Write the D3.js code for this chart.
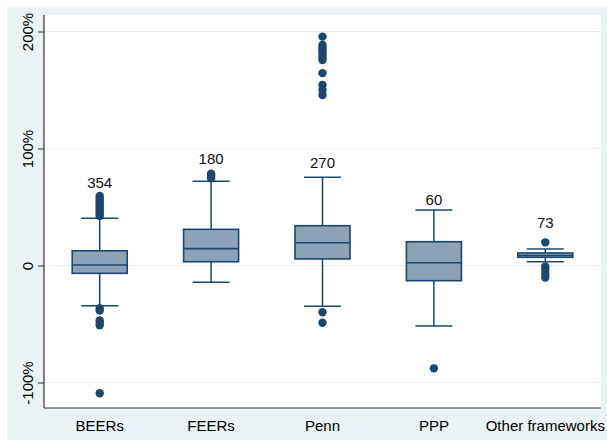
<!DOCTYPE html>
<html><head><meta charset="utf-8">
<script src="https://cdn.jsdelivr.net/npm/d3@7"></script>
<style>html,body{margin:0;padding:0;background:#fff;}svg{display:block;font-family:"Liberation Sans",Arial,sans-serif;}</style>
</head><body>
<svg id="chart" width="607" height="440"></svg>
<script>
const categories = ["BEERs","FEERs","Penn","PPP","Other frameworks"];
const counts = [354,180,270,60,73];
const q1 = [-6.7, 3.2, 5.6, -13.0, 7.0];
const medians = [0.4, 14.4, 19.5, 2.4, 8.6];
const q3 = [12.6, 30.9, 34.0, 20.3, 10.7];
const whiskerLow = [-34.4, -14.4, -34.9, -51.7, 3.2];
const whiskerHigh = [40.3, 72.0, 75.4, 47.4, 14.1];
const countLabelAt = [70.8, 91.1, 88.1, 56.2, 36.6];
const outliersBEERs = [59.4,57.7,56,54.3,52.6,50.9,49.1,47.4,45.7,44,42.3,-36.5,-38.5,-47,-49,-51,-109.2];
const outliersFEERs = [74.5,76,77.5,78.5];
const outliersPenn = [195.6,188.5,186,184,182,180,177.5,175.6,164.4,154.3,150,145.7,-39.9,-49];
const outliersPPP = [-87.9];
const outliersOther = [19.8,-0.9,-3.8,-7.3,-10.3];
const yTicks = [-100,0,100,200];
const yTickLabels = ["-100%","0","100%","200%"];

const outliers = [outliersBEERs,outliersFEERs,outliersPenn,outliersPPP,outliersOther];
const navy = "#1a476f", fill = "#8ea2b7", grid = "#e6eef1";

const svg = d3.select("#chart");
svg.append("rect").attr("x",7).attr("y",7).attr("width",600).attr("height",433).attr("fill","#eaf2f3");

const L=44,R=601,T=15,B=408;
svg.append("rect").attr("x",L).attr("y",T).attr("width",R-L).attr("height",B-T).attr("fill","#fff");

const y = d3.scaleLinear().domain([-121.8,214.1]).range([B,T]);
const x = d3.scaleBand().domain(categories).range([L,R]).padding(0);

// gridlines
svg.append("g").selectAll("line").data(yTicks).join("line")
  .attr("x1",L).attr("x2",R).attr("y1",d=>y(d)).attr("y2",d=>y(d))
  .attr("stroke",grid).attr("stroke-width",1.2);

// y axis
const yAxis = d3.axisLeft(y).tickValues(yTicks).tickFormat((d,i)=>yTickLabels[i]).tickSize(6).tickPadding(4);
const gy = svg.append("g").attr("transform",`translate(${L},0)`).call(yAxis);
gy.select(".domain").attr("d",`M0,${T}V${B}`).attr("stroke","#333").attr("stroke-width",1.2);
gy.selectAll(".tick line").attr("stroke","#333");
gy.selectAll(".tick text").attr("font-size",15).attr("fill","#000")
  .attr("transform","rotate(-90)").attr("text-anchor","middle").attr("x",0).attr("y",-11).attr("dy","0");

// x axis
const xAxis = d3.axisBottom(x).tickSize(0).tickPadding(9);
const gx = svg.append("g").attr("transform",`translate(0,${B})`).call(xAxis);
gx.select(".domain").attr("d",`M${L},0H${R}`).attr("stroke","#333").attr("stroke-width",1.2);
gx.selectAll(".tick text").attr("font-size",15).attr("fill","#000").attr("dy","0.9em");

const boxW = 55, capW = 37;
const g = svg.append("g");
categories.forEach((c,i)=>{
  const cx = x(c)+x.bandwidth()/2;
  const gg = g.append("g");
  gg.append("line").attr("x1",cx).attr("x2",cx).attr("y1",y(q3[i])).attr("y2",y(whiskerHigh[i])).attr("stroke",navy).attr("stroke-width",1.5);
  gg.append("line").attr("x1",cx).attr("x2",cx).attr("y1",y(q1[i])).attr("y2",y(whiskerLow[i])).attr("stroke",navy).attr("stroke-width",1.5);
  [whiskerHigh[i],whiskerLow[i]].forEach(v=>{
    gg.append("line").attr("x1",cx-capW/2).attr("x2",cx+capW/2).attr("y1",y(v)).attr("y2",y(v)).attr("stroke",navy).attr("stroke-width",1.5);
  });
  gg.append("rect").attr("x",cx-boxW/2).attr("width",boxW).attr("y",y(q3[i])).attr("height",y(q1[i])-y(q3[i]))
    .attr("fill",fill).attr("stroke",navy).attr("stroke-width",1.6);
  gg.append("line").attr("x1",cx-boxW/2).attr("x2",cx+boxW/2).attr("y1",y(medians[i])).attr("y2",y(medians[i])).attr("stroke",navy).attr("stroke-width",1.6);
  gg.selectAll("circle").data(outliers[i]).join("circle").attr("cx",cx).attr("cy",d=>y(d)).attr("r",4.2).attr("fill",navy);
  gg.append("text").attr("x",cx).attr("y",y(countLabelAt[i])).attr("dy","0.36em").attr("text-anchor","middle")
    .attr("font-size",15).attr("fill","#111").text(counts[i]);
});
</script>
</body></html>
